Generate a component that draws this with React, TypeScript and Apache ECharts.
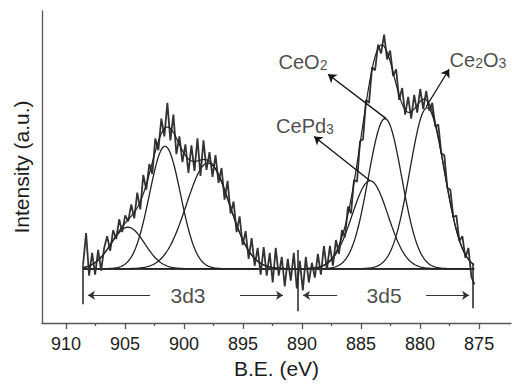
import React, { useEffect, useRef } from "react";
import * as echarts from "echarts";

// ---- axis ticks ----
const X_TICKS = [910, 905, 900, 895, 890, 885, 880, 875];
const X_MINOR_TICKS = [907.5, 902.5, 897.5, 892.5, 887.5, 882.5, 877.5];
const X_MIN = 872.3;
const X_MAX = 912.03;
const Y_MIN = -55;
const Y_MAX = 261;

// ---- raw spectrum (evenly spaced binding energies, read intensities) ----
const RAW_START = 908.55;
const RAW_STEP = 0.255;
const RAW_INTENSITY = [
  4, 36, -7, 16, -6, 19, -2, 21, 33, 18, 39, 30, 50, 37, 54, 48, 65, 51, 77, 60,
  95, 80, 106, 96, 132, 120, 152, 134, 168, 130, 156, 116, 134, 108, 126,
  97, 125, 99, 132, 94, 130, 100, 118, 93, 115, 87, 102, 70, 89, 56, 68, 37, 53, 24, 38,
  10, 31, 3, 21, -6, 22, -7, 16, -14, 21, -7, 12, -18, 10, -12, 16, -20, 8, -22, 12,
  -14, 6, -9, 15, -6, 23, -1, 23, 3, 29, 15, 39, 32, 63, 56, 90, 88, 129, 131, 171,
  168, 204, 201, 227, 218, 237, 212, 221, 195, 202, 171, 183, 156, 174, 152, 176,
  158, 182, 162, 180,
  160, 168, 144, 146, 117, 115, 82, 80, 52, 54, 28, 33, 11, 21, -8, -16,
];

// ---- fitted peak components: centre (eV), height, sigma (eV) ----
const PEAK_CENTERS = [904.75, 901.61, 897.97, 884.24, 882.97, 879.41];
const PEAK_HEIGHTS = [42, 124, 107, 89, 152, 163];
const PEAK_SIGMAS = [1.42, 1.32, 1.83, 1.53, 1.42, 1.47];
const FIT_RANGE = [908.55, 875.4];

// ---- annotations ----
const PEAK_LABELS = ["{m|CeO}{s|2}", "{m|CePd}{s|3}", "{m|Ce}{s|2}{m|O}{s|3}"];
const PEAK_LABEL_POS = [
  [889.92, 210],
  [889.75, 146],
  [875.1, 212],
];
const PEAK_ARROWS = [
  [[882.88, 152], [887.8, 197]],
  [[884.24, 89], [888.98, 134]],
  [[879.49, 164], [877.54, 202]],
];
const SPAN_LABELS = ["3d3", "3d5"];
const SPAN_LABEL_POS = [
  [899.66, -27],
  [883.05, -27],
];
const SPAN_ARROWS = [
  [[902.88, -27], [908.14, -27]],
  [[895.25, -27], [891.61, -27]],
  [[887.03, -27], [889.92, -27]],
  [[879.49, -27], [875.85, -27]],
];
const SEPARATORS = [
  [[908.56, 4], [908.56, -36]],
  [[890.34, 19], [890.34, -43]],
  [[875.51, 5], [875.51, -40]],
];

const FONT = "'Liberation Sans', Arial, Helvetica, sans-serif";
const INK = "#1c1c1c";

function gauss(c: number, h: number, s: number, x: number) {
  return h * Math.exp(-((x - c) * (x - c)) / (2 * s * s));
}

export default function App() {
  const ref = useRef<HTMLDivElement>(null);
  useEffect(() => {
    document.body.style.margin = "0";
    const chart = echarts.init(ref.current!, null, { renderer: "svg" });

    const rawData = RAW_INTENSITY.map((v, i) => [RAW_START - i * RAW_STEP, v]);
    const grid: number[] = [];
    for (let x = FIT_RANGE[0]; x >= FIT_RANGE[1] - 1e-9; x -= 0.08) grid.push(x);
    const comps = PEAK_CENTERS.map((c, k) =>
      grid.map((x) => [x, gauss(c, PEAK_HEIGHTS[k], PEAK_SIGMAS[k], x)])
    );
    const envelope = grid.map((x, j) => [x, comps.reduce((a, cc) => a + cc[j][1], 0)]);

    const lineBase = {
      type: "line" as const,
      showSymbol: false,
      symbol: "none",
      animation: false,
      silent: true,
    };

    const option: any = {
      animation: false,
      backgroundColor: "#fff",
      grid: { left: 42, right: 1, top: 11, bottom: 57, containLabel: false },
      xAxis: [
        {
          type: "value",
          min: X_MIN,
          max: X_MAX,
          inverse: true,
          position: "bottom",
          name: "B.E. (eV)",
          nameLocation: "middle",
          nameGap: 35,
          nameTextStyle: { fontFamily: FONT, fontSize: 21, color: INK },
          axisLine: { show: true, onZero: false, lineStyle: { color: "#555", width: 1.3 } },
          axisTick: { show: true, customValues: X_TICKS, length: 6, lineStyle: { color: "#555", width: 1.3 } },
          axisLabel: {
            show: true,
            customValues: X_TICKS,
            margin: 12,
            fontFamily: FONT,
            fontSize: 18,
            color: INK,
          },
          splitLine: { show: false },
        },
        {
          type: "value",
          min: X_MIN,
          max: X_MAX,
          inverse: true,
          position: "bottom",
          offset: 0,
          axisLine: { show: false, onZero: false },
          axisTick: { show: true, customValues: X_MINOR_TICKS, length: 3, lineStyle: { color: "#555", width: 1.3 } },
          axisLabel: { show: false },
          splitLine: { show: false },
        },
      ],
      yAxis: {
        type: "value",
        min: Y_MIN,
        max: Y_MAX,
        name: "Intensity (a.u.)",
        nameLocation: "middle",
        nameGap: 10,
        nameTextStyle: { fontFamily: FONT, fontSize: 21, color: INK },
        axisLine: { show: true, onZero: false, lineStyle: { color: "#555", width: 1.3 } },
        axisTick: { show: false },
        axisLabel: { show: false },
        splitLine: { show: false },
      },
      series: [
        {
          type: "lines",
          coordinateSystem: "cartesian2d",
          silent: true,
          lineStyle: { color: "#2a2a2a", width: 1.5, opacity: 1 },
          data: [{ coords: [[FIT_RANGE[0], 0], [FIT_RANGE[1], 0]] }],
          z: 2,
        },
        ...comps.map((d) => ({
          ...lineBase,
          data: d,
          lineStyle: { color: "#222", width: 1.3 },
          z: 3,
        })),
        {
          ...lineBase,
          data: rawData,
          lineStyle: { color: "#333", width: 1.8 },
          z: 4,
        },
        {
          ...lineBase,
          data: envelope,
          lineStyle: { color: "#222", width: 1.2 },
          z: 5,
        },
        {
          type: "lines",
          coordinateSystem: "cartesian2d",
          silent: true,
          lineStyle: { color: "#222", width: 1.5, opacity: 1 },
          data: SEPARATORS.map((c) => ({ coords: c })),
          z: 6,
        },
        {
          type: "lines",
          coordinateSystem: "cartesian2d",
          silent: true,
          symbol: ["none", "arrow"],
          symbolSize: 8,
          lineStyle: { color: "#111", width: 1.3, opacity: 1 },
          data: PEAK_ARROWS.map((c) => ({ coords: c })),
          z: 7,
        },
        {
          type: "lines",
          coordinateSystem: "cartesian2d",
          silent: true,
          symbol: ["none", "arrow"],
          symbolSize: 7,
          lineStyle: { color: "#333", width: 1.2, opacity: 1 },
          data: SPAN_ARROWS.map((c) => ({ coords: c })),
          z: 7,
        },
        {
          type: "scatter",
          silent: true,
          symbolSize: 1,
          itemStyle: { color: "rgba(0,0,0,0)" },
          data: PEAK_LABEL_POS.map((p, i) => ({
            value: p,
            label: {
              show: true,
              position: "inside",
              formatter: PEAK_LABELS[i],
              rich: {
                m: { fontFamily: FONT, fontSize: 20, color: INK, verticalAlign: "bottom", lineHeight: 22 },
                s: { fontFamily: FONT, fontSize: 14, color: INK, verticalAlign: "bottom", lineHeight: 18 },
              },
            },
          })),
          z: 8,
        },
        {
          type: "scatter",
          silent: true,
          symbolSize: 1,
          itemStyle: { color: "rgba(0,0,0,0)" },
          data: SPAN_LABEL_POS.map((p, i) => ({
            value: p,
            label: {
              show: true,
              position: "inside",
              formatter: SPAN_LABELS[i],
              fontFamily: FONT,
              fontSize: 21,
              color: INK,
            },
          })),
          z: 8,
        },
      ],
    };
    chart.setOption(option);
    return () => chart.dispose();
  }, []);
  return (
    <div
      ref={ref}
      style={{ width: 512, height: 384, position: "absolute", left: 0, top: 0, background: "#fff" }}
    />
  );
}
